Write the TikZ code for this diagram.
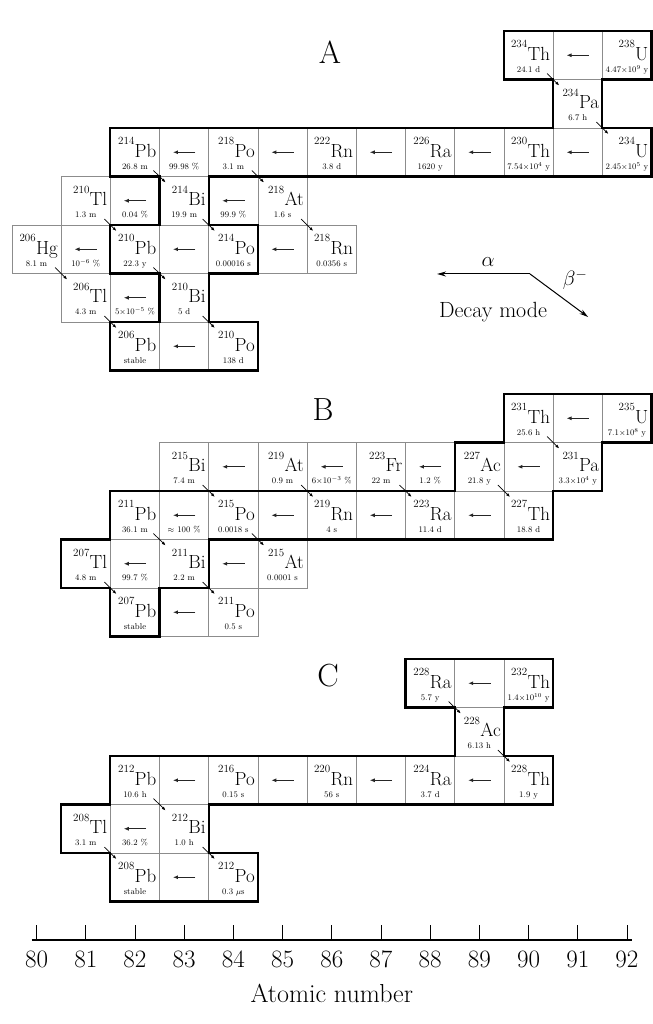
\documentclass[tikz,border=0pt]{standalone}
\usepackage{fontspec}
\usetikzlibrary{arrows.meta}

\tikzset{
  cell/.style={draw=black!45, line width=0.6pt, minimum width=49.2pt, minimum height=48.5pt, inner sep=0pt, outer sep=0pt},
  symtext/.style={anchor=base east, inner sep=0pt, font=\fontsize{19}{19}\selectfont},
  lifetext/.style={anchor=base, inner sep=0pt, font=\fontsize{8.5}{8.5}\selectfont},
  chain/.style={line width=2.2pt, line join=miter},
  alphadecay/.style={-{Latex[length=5pt,width=4pt]}, line width=1.1pt, black!85, shorten <=38pt, shorten >=38pt},
  betadecay/.style={-{Latex[length=4pt,width=3pt]}, line width=0.7pt, shorten <=26pt, shorten >=26pt},
  legendarrow/.style={-{Stealth[length=9pt,width=5pt]}, line width=1pt},
  legendtext/.style={inner sep=0pt, font=\fontsize{22}{22}\selectfont},
  axisnum/.style={anchor=base, inner sep=0pt, font=\fontsize{25}{25}\selectfont},
  chainname/.style={inner sep=0pt, font=\fontsize{32}{32}\selectfont},
}

\newcommand{\masssize}{\fontsize{11}{11}\selectfont}
% nuclide box: name, Z, row, mass number, symbol, half-life
\newcommand{\nuclide}[6]{%
  \node[cell] (#1) at (#2,#3+0.5) {};
  \node[symtext] (#1-sym) at ([xshift=-3pt,yshift=-29pt]#1.north east) {\raisebox{12.5pt}{\masssize #4}\kern0.3pt#5};
  \node[lifetext] (#1-life) at ([yshift=7.5pt]#1.south) {#6};}
% box holding an alpha arrow: [branching], name, Z, row
\newcommand{\branch}[4][]{%
  \node[cell] (#2) at (#3,#4+0.5) {};
  \if\relax\detokenize{#1}\relax\else
    \node[lifetext] (#2-life) at ([yshift=7.5pt]#2.south) {#1};
  \fi}

\begin{document}
\begin{tikzpicture}[x=49.2pt, y=-48.5pt]
\useasboundingbox (79.258,0) rectangle (92.530,21.113);

% uranium series
\begin{scope}[yshift=-31pt]
  \nuclide{Th234}{90}{0}{234}{Th}{24.1 d}
  \branch{aU238}{91}{0}
  \nuclide{U238}{92}{0}{238}{U}{4.47$\times$10$^{9}$ y}
  \nuclide{Pa234}{91}{1}{234}{Pa}{6.7 h}
  \nuclide{Pb214}{82}{2}{214}{Pb}{26.8 m}
  \branch[99.98 \%]{aPo218}{83}{2}
  \nuclide{Po218}{84}{2}{218}{Po}{3.1 m}
  \branch{aRn222}{85}{2}
  \nuclide{Rn222}{86}{2}{222}{Rn}{3.8 d}
  \branch{aRa226}{87}{2}
  \nuclide{Ra226}{88}{2}{226}{Ra}{1620 y}
  \branch{aTh230}{89}{2}
  \nuclide{Th230}{90}{2}{230}{Th}{7.54$\times$10$^{4}$ y}
  \branch{aU234}{91}{2}
  \nuclide{U234}{92}{2}{234}{U}{2.45$\times$10$^{5}$ y}
  \nuclide{Tl210}{81}{3}{210}{Tl}{1.3 m}
  \branch[0.04 \%]{aBi214}{82}{3}
  \nuclide{Bi214}{83}{3}{214}{Bi}{19.9 m}
  \branch[99.9 \%]{aAt218}{84}{3}
  \nuclide{At218}{85}{3}{218}{At}{1.6 s}
  \nuclide{Hg206}{80}{4}{206}{Hg}{8.1 m}
  \branch[10$^{-6}$ \%]{aPb210}{81}{4}
  \nuclide{Pb210}{82}{4}{210}{Pb}{22.3 y}
  \branch{aPo214}{83}{4}
  \nuclide{Po214}{84}{4}{214}{Po}{0.00016 s}
  \branch{aRn218}{85}{4}
  \nuclide{Rn218}{86}{4}{218}{Rn}{0.0356 s}
  \nuclide{Tl206}{81}{5}{206}{Tl}{4.3 m}
  \branch[5$\times$10$^{-5}$ \%]{aBi210}{82}{5}
  \nuclide{Bi210}{83}{5}{210}{Bi}{5 d}
  \nuclide{Pb206}{82}{6}{206}{Pb}{stable}
  \branch{aPo210}{83}{6}
  \nuclide{Po210}{84}{6}{210}{Po}{138 d}

  \foreach \src/\dst in {U238/Th234, U234/Th230, Th230/Ra226, Ra226/Rn222, Rn222/Po218,
      Po218/Pb214, Bi214/Tl210, At218/Bi214, Pb210/Hg206, Po214/Pb210, Rn218/Po214,
      Bi210/Tl206, Po210/Pb206}
    \draw[alphadecay] (\src.center) -- (\dst.center);
  \foreach \src/\dst in {Th234/Pa234, Pa234/U234, Po218/At218, Pb214/Bi214, At218/Rn218,
      Tl210/Pb210, Bi214/Po214, Hg206/Tl206, Pb210/Bi210, Tl206/Pb206, Bi210/Po210}
    \draw[betadecay] (\src.center) -- (\dst.center);

  \draw[chain] (81.5,2) -- (90.5,2) -- (90.5,1) -- (89.5,1) -- (89.5,0) -- (92.5,0)
    -- (92.5,1) -- (91.5,1) -- (91.5,2) -- (92.5,2) -- (92.5,3) -- (83.5,3) -- (83.5,4)
    -- (84.5,4) -- (84.5,5) -- (83.5,5) -- (83.5,6) -- (84.5,6) -- (84.5,7) -- (81.5,7)
    -- (81.5,6) -- (82.5,6) -- (82.5,5) -- (81.5,5) -- (81.5,4) -- (82.5,4) -- (82.5,3)
    -- (81.5,3) -- cycle;
\end{scope}

% actinium series
\begin{scope}[yshift=-394pt]
  \nuclide{Th231}{90}{0}{231}{Th}{25.6 h}
  \branch{aU235}{91}{0}
  \nuclide{U235}{92}{0}{235}{U}{7.1$\times$10$^{8}$ y}
  \nuclide{Bi215}{83}{1}{215}{Bi}{7.4 m}
  \branch{aAt219}{84}{1}
  \nuclide{At219}{85}{1}{219}{At}{0.9 m}
  \branch[6$\times$10$^{-3}$ \%]{aFr223}{86}{1}
  \nuclide{Fr223}{87}{1}{223}{Fr}{22 m}
  \branch[1.2 \%]{aAc227}{88}{1}
  \nuclide{Ac227}{89}{1}{227}{Ac}{21.8 y}
  \branch{aPa231}{90}{1}
  \nuclide{Pa231}{91}{1}{231}{Pa}{3.3$\times$10$^{4}$ y}
  \nuclide{Pb211}{82}{2}{211}{Pb}{36.1 m}
  \branch[$\approx$ 100 \%]{aPo215}{83}{2}
  \nuclide{Po215}{84}{2}{215}{Po}{0.0018 s}
  \branch{aRn219}{85}{2}
  \nuclide{Rn219}{86}{2}{219}{Rn}{4 s}
  \branch{aRa223}{87}{2}
  \nuclide{Ra223}{88}{2}{223}{Ra}{11.4 d}
  \branch{aTh227}{89}{2}
  \nuclide{Th227}{90}{2}{227}{Th}{18.8 d}
  \nuclide{Tl207}{81}{3}{207}{Tl}{4.8 m}
  \branch[99.7 \%]{aBi211}{82}{3}
  \nuclide{Bi211}{83}{3}{211}{Bi}{2.2 m}
  \branch{aAt215}{84}{3}
  \nuclide{At215}{85}{3}{215}{At}{0.0001 s}
  \nuclide{Pb207}{82}{4}{207}{Pb}{stable}
  \branch{aPo211}{83}{4}
  \nuclide{Po211}{84}{4}{211}{Po}{0.5 s}

  \foreach \src/\dst in {U235/Th231, Pa231/Ac227, Ac227/Fr223, Fr223/At219, At219/Bi215,
      Th227/Ra223, Ra223/Rn219, Rn219/Po215, Po215/Pb211, At215/Bi211, Bi211/Tl207,
      Po211/Pb207}
    \draw[alphadecay] (\src.center) -- (\dst.center);
  \foreach \src/\dst in {Th231/Pa231, Ac227/Th227, Fr223/Ra223, At219/Rn219, Bi215/Po215,
      Po215/At215, Pb211/Bi211, Tl207/Pb207, Bi211/Po211}
    \draw[betadecay] (\src.center) -- (\dst.center);

  \draw[chain] (81.5,2) -- (88.5,2) -- (88.5,1) -- (89.5,1) -- (89.5,0) -- (92.5,0)
    -- (92.5,1) -- (91.5,1) -- (91.5,2) -- (90.5,2) -- (90.5,3) -- (83.5,3) -- (83.5,4)
    -- (82.5,4) -- (82.5,5) -- (81.5,5) -- (81.5,4) -- (80.5,4) -- (80.5,3) -- (81.5,3)
    -- cycle;
\end{scope}

% thorium series
\begin{scope}[yshift=-659pt]
  \nuclide{Ra228}{88}{0}{228}{Ra}{5.7 y}
  \branch{aTh232}{89}{0}
  \nuclide{Th232}{90}{0}{232}{Th}{1.4$\times$10$^{10}$ y}
  \nuclide{Ac228}{89}{1}{228}{Ac}{6.13 h}
  \nuclide{Pb212}{82}{2}{212}{Pb}{10.6 h}
  \branch{aPo216}{83}{2}
  \nuclide{Po216}{84}{2}{216}{Po}{0.15 s}
  \branch{aRn220}{85}{2}
  \nuclide{Rn220}{86}{2}{220}{Rn}{56 s}
  \branch{aRa224}{87}{2}
  \nuclide{Ra224}{88}{2}{224}{Ra}{3.7 d}
  \branch{aTh228}{89}{2}
  \nuclide{Th228}{90}{2}{228}{Th}{1.9 y}
  \nuclide{Tl208}{81}{3}{208}{Tl}{3.1 m}
  \branch[36.2 \%]{aBi212}{82}{3}
  \nuclide{Bi212}{83}{3}{212}{Bi}{1.0 h}
  \nuclide{Pb208}{82}{4}{208}{Pb}{stable}
  \branch{aPo212}{83}{4}
  \nuclide{Po212}{84}{4}{212}{Po}{0.3 $\mu$s}

  \foreach \src/\dst in {Th232/Ra228, Th228/Ra224, Ra224/Rn220, Rn220/Po216, Po216/Pb212,
      Bi212/Tl208, Po212/Pb208}
    \draw[alphadecay] (\src.center) -- (\dst.center);
  \foreach \src/\dst in {Ra228/Ac228, Ac228/Th228, Pb212/Bi212, Tl208/Pb208, Bi212/Po212}
    \draw[betadecay] (\src.center) -- (\dst.center);

  \draw[chain] (81.5,2) -- (88.5,2) -- (88.5,1) -- (87.5,1) -- (87.5,0) -- (90.5,0)
    -- (90.5,1) -- (89.5,1) -- (89.5,2) -- (90.5,2) -- (90.5,3) -- (83.5,3) -- (83.5,4)
    -- (84.5,4) -- (84.5,5) -- (81.5,5) -- (81.5,4) -- (80.5,4) -- (80.5,3) -- (81.5,3)
    -- cycle;
\end{scope}

% series names
\node[chainname] (nameA) at (85.965,1.072) {A};
\node[chainname] (nameB) at (85.823,8.454) {B};
\node[chainname] (nameC) at (85.925,13.938) {C};

% decay mode key
\coordinate (dm) at (90.03,5.649);
\coordinate (dmalpha) at (88.14,5.649);
\coordinate (dmbeta) at (91.21,6.536);
\draw[legendarrow] (dm) -- (dmalpha);
\draw[legendarrow] (dm) -- (dmbeta);
\node[legendtext] (alphalabel) at (89.177,5.402) {$\alpha$};
\node[legendtext] (betalabel) at (90.945,5.773) {$\beta^{-}$};
\node[legendtext] (decaymode) at (89.278,6.433) {Decay mode};

% atomic number axis
\draw[line width=1.3pt] (79.9,19.381) -- (92.1,19.381);
\foreach \z in {80,...,92} {
  \draw[line width=0.9pt] (\z,19.381) -- ++(0pt,15pt);
  \node[axisnum] (z\z) at (\z,19.938) {\z};
}
\node[axisnum, font=\fontsize{26}{26}\selectfont] (axislabel) at (86,20.66) {Atomic number};
\end{tikzpicture}
\end{document}
